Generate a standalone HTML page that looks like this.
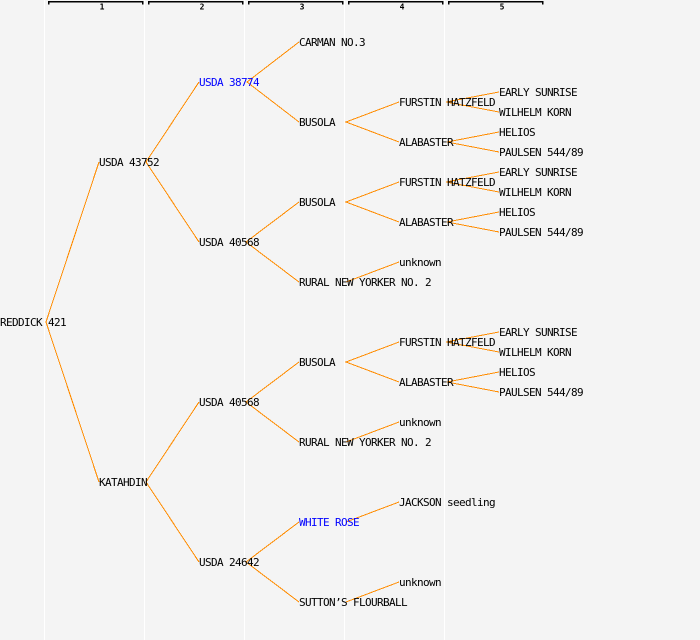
<!DOCTYPE html>
<html><head><meta charset="utf-8"><style>
html,body{margin:0;padding:0;background:#f4f4f4;}
svg{display:block;}
text{font-family:"DejaVu Sans Mono","Liberation Mono",monospace;font-size:11px;letter-spacing:-0.62px;fill:#000;}
text.b{fill:#0000ff;}
text.h{font-size:8px;letter-spacing:0;font-weight:bold;}
</style></head><body>
<svg width="700" height="640" viewBox="0 0 700 640" xmlns="http://www.w3.org/2000/svg">
<rect x="0" y="0" width="700" height="640" fill="#f4f4f4"/>
<g fill="#ffffff">
<rect x="44" y="0" width="1" height="640"/>
<rect x="144" y="0" width="1" height="640"/>
<rect x="244" y="0" width="1" height="640"/>
<rect x="344" y="0" width="1" height="640"/>
<rect x="444" y="0" width="1" height="640"/>
</g>
<g stroke="#000" fill="none" stroke-width="1.5" shape-rendering="crispEdges">
<path d="M48.5 4.5V1.5H142.5V4.5"/>
<path d="M148.5 4.5V1.5H242.5V4.5"/>
<path d="M248.5 4.5V1.5H342.5V4.5"/>
<path d="M348.5 4.5V1.5H442.5V4.5"/>
<path d="M448.5 4.5V1.5H542.5V4.5"/>
</g>
<text class="h" x="102" y="9.5" text-anchor="middle">1</text>
<text class="h" x="202" y="9.5" text-anchor="middle">2</text>
<text class="h" x="302" y="9.5" text-anchor="middle">3</text>
<text class="h" x="402" y="9.5" text-anchor="middle">4</text>
<text class="h" x="502" y="9.5" text-anchor="middle">5</text>
<g stroke="#ff8c00" stroke-width="1" fill="none" shape-rendering="crispEdges">
<path d="M99 162L46 322L99 482"/>
<path d="M199 82L146 162L199 242"/>
<path d="M199 402L146 482L199 562"/>
<path d="M299 42L247 82L299 122"/>
<path d="M299 202L246 242L299 282"/>
<path d="M299 362L246 402L299 442"/>
<path d="M299 522L246 562L299 602"/>
<path d="M399 102L346 122L399 142"/>
<path d="M399 182L346 202L399 222"/>
<path d="M346 282L399 262"/>
<path d="M399 342L346 362L399 382"/>
<path d="M346 442L399 422"/>
<path d="M346 522L399 502"/>
<path d="M346 602L399 582"/>
<path d="M499 92L446 102L499 112"/>
<path d="M499 132L447 142L499 152"/>
<path d="M499 172L446 182L499 192"/>
<path d="M499 212L447 222L499 232"/>
<path d="M499 332L446 342L499 352"/>
<path d="M499 372L447 382L499 392"/>
</g>
<text x="0" y="326">REDDICK 421</text>
<text x="99" y="166">USDA 43752</text>
<text x="99" y="486">KATAHDIN</text>
<text class="b" x="199" y="86">USDA 38774</text>
<text x="199" y="246">USDA 40568</text>
<text x="199" y="406">USDA 40568</text>
<text x="199" y="566">USDA 24642</text>
<text x="299" y="46">CARMAN NO.3</text>
<text x="299" y="126">BUSOLA</text>
<text x="299" y="206">BUSOLA</text>
<text x="299" y="286">RURAL NEW YORKER NO. 2</text>
<text x="299" y="366">BUSOLA</text>
<text x="299" y="446">RURAL NEW YORKER NO. 2</text>
<text class="b" x="299" y="526">WHITE ROSE</text>
<text x="299" y="606">SUTTON’S FLOURBALL</text>
<text x="399" y="106">FURSTIN HATZFELD</text>
<text x="399" y="146">ALABASTER</text>
<text x="399" y="186">FURSTIN HATZFELD</text>
<text x="399" y="226">ALABASTER</text>
<text x="399" y="266">unknown</text>
<text x="399" y="346">FURSTIN HATZFELD</text>
<text x="399" y="386">ALABASTER</text>
<text x="399" y="426">unknown</text>
<text x="399" y="506">JACKSON seedling</text>
<text x="399" y="586">unknown</text>
<text x="499" y="96">EARLY SUNRISE</text>
<text x="499" y="116">WILHELM KORN</text>
<text x="499" y="136">HELIOS</text>
<text x="499" y="156">PAULSEN 544/89</text>
<text x="499" y="176">EARLY SUNRISE</text>
<text x="499" y="196">WILHELM KORN</text>
<text x="499" y="216">HELIOS</text>
<text x="499" y="236">PAULSEN 544/89</text>
<text x="499" y="336">EARLY SUNRISE</text>
<text x="499" y="356">WILHELM KORN</text>
<text x="499" y="376">HELIOS</text>
<text x="499" y="396">PAULSEN 544/89</text>
</svg>
</body></html>
